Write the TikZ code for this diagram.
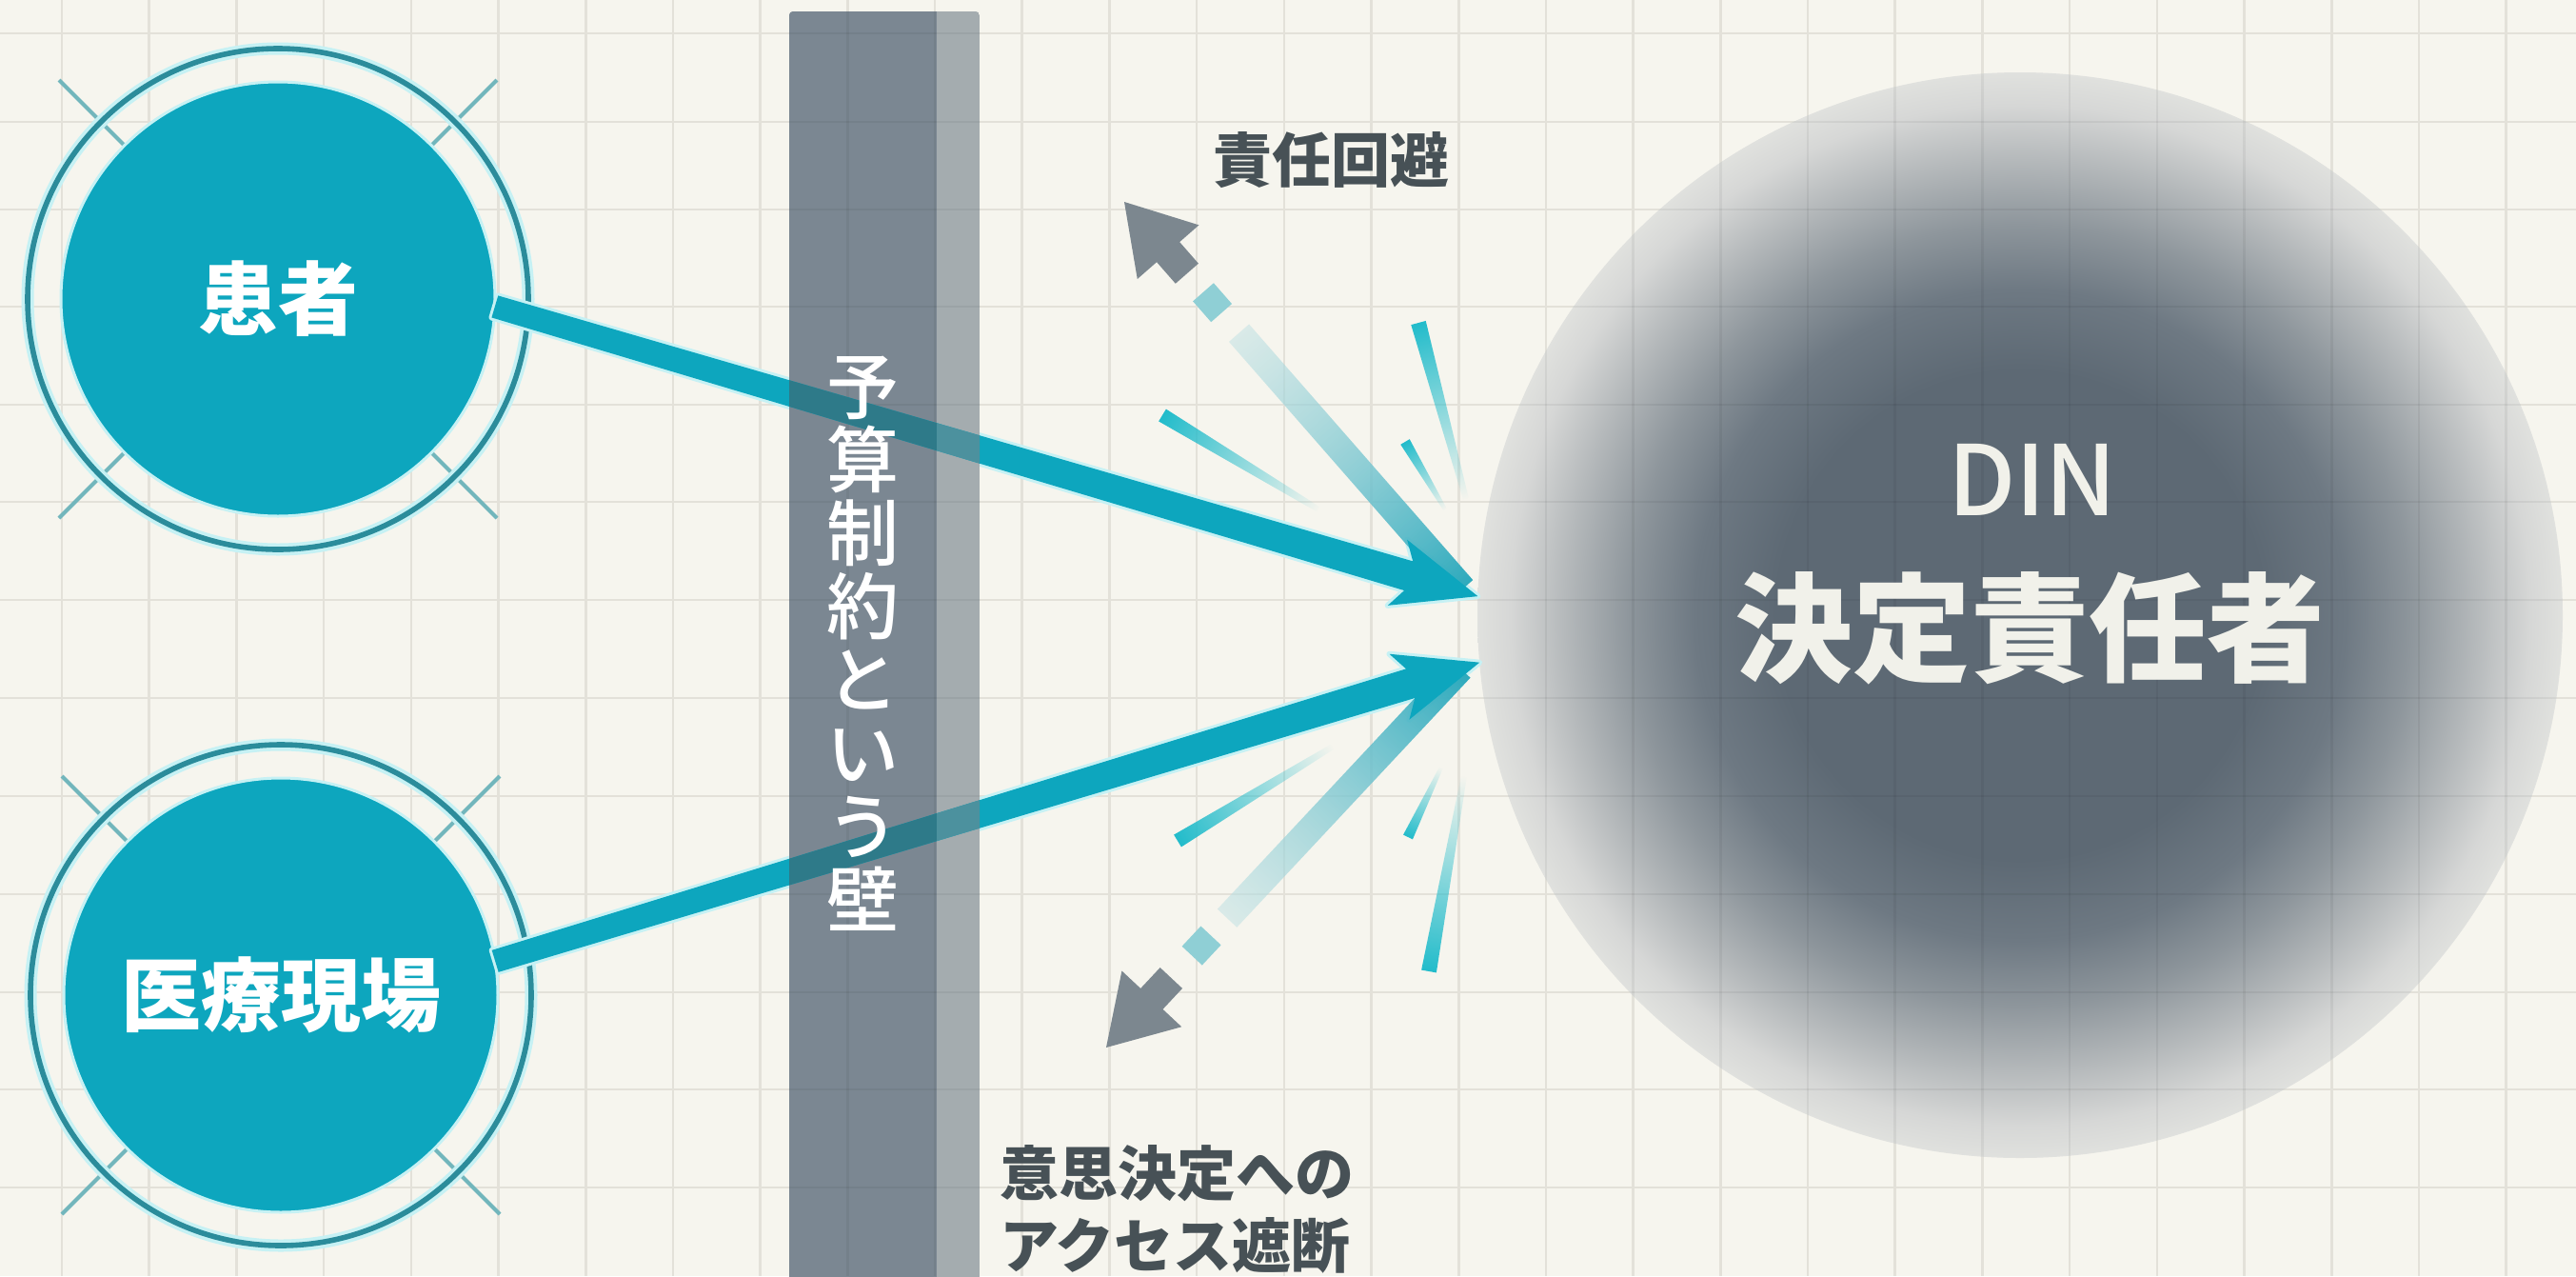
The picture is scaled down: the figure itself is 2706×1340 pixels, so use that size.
\documentclass[tikz,border=0pt]{standalone}
\usepackage{fontspec}
\newfontfamily\jp{Noto Sans CJK JP}
\newfontfamily\jpm{Noto Sans CJK JP Medium}
\usetikzlibrary{calc,fadings}
\definecolor{bgc}{HTML}{F6F5EE}
\definecolor{gridc}{HTML}{E3E1D9}
\definecolor{tealc}{HTML}{0DA6BE}
\definecolor{glowc}{HTML}{C6F1F4}
\definecolor{ringc}{HTML}{2B8C9B}
\definecolor{xc}{HTML}{72B6BC}
\definecolor{walldark}{HTML}{7B8792}
\definecolor{walllight}{HTML}{A4ACAF}
\definecolor{wtd}{HTML}{2E7A89}
\definecolor{wtl}{HTML}{4C919E}
\definecolor{grayhead}{HTML}{7C878F}
\definecolor{sqc}{HTML}{8FCFD5}
\definecolor{barteal}{HTML}{2EAABD}
\definecolor{barlight}{HTML}{C3E2E4}
\definecolor{sparkc}{HTML}{22BCCB}
\definecolor{labelc}{HTML}{475156}
\definecolor{dintext}{HTML}{F1F1EA}
\definecolor{dinA}{HTML}{5D6974}
\definecolor{dinB}{HTML}{6E7983}
\definecolor{dinC}{HTML}{8E969C}
\definecolor{dinD}{HTML}{B5B9BB}
\definecolor{dinE}{HTML}{D6D7D6}
\definecolor{dinF}{HTML}{E0E1DE}
\pgfdeclareradialshading{dinshade}{\pgfpoint{0bp}{0bp}}{color(0bp)=(dinA); color(11.25bp)=(dinA); color(15bp)=(dinB); color(18bp)=(dinC); color(21bp)=(dinD); color(23.5bp)=(dinE); color(25bp)=(dinF); color(50bp)=(dinF)}
\tikzfading[name=fadeout, left color=transparent!0, right color=transparent!100]
\tikzfading[name=fadein, left color=transparent!45, right color=transparent!0]
\tikzset{
  hub/.style={circle, fill=tealc, draw=glowc, line width=1.5pt, minimum size=228pt, text=white, font=\jp\bfseries\fontsize{42pt}{46pt}\selectfont},
  ringline/.style={draw=ringc, line width=2.8pt},
  ringglow/.style={draw=glowc, line width=6.5pt},
  xline/.style={draw=xc, line width=2pt},
  arrowglow/.style={draw=glowc, line width=3pt, line join=round},
  lbltext/.style={text=labelc, font=\jp\bfseries\fontsize{31pt}{38pt}\selectfont},
  shadowgrid/.style={draw=black, draw opacity=0.05, line width=1.3pt},
}
\newcommand\gridlines{%
  \foreach \k in {0,...,28}{\draw ({65+91.7*\k},0) -- ({65+91.7*\k},1340);}%
  \foreach \yy in {35,128,220,322,425,527,630,733,836,939,1042,1144,1247}{\draw (0,\yy) -- (2706,\yy);}%
}
\newcommand\tealpath[2]{($(#1)!6pt!90:(#2)$) -- ($(#2)!37.9pt!(#1)!8pt!-90:(#1)$) -- ($(#2)!44pt!(#1)!18pt!-90:(#1)$) -- (#2) -- ($(#2)!44pt!(#1)!18pt!90:(#1)$) -- ($(#2)!37.9pt!(#1)!8pt!90:(#1)$) -- ($(#1)!6pt!-90:(#2)$) -- cycle}
\newcommand\spark[6]{%
  \begin{scope}[transform canvas={shift={(#1,#2)}, rotate=#3}]
    \fill[sparkc, path fading=fadeout] (0,{-#5/2}) -- (#4,{-#6/2}) -- (#4,{#6/2}) -- (0,{#5/2}) -- cycle;
  \end{scope}}
\begin{document}
\begin{tikzpicture}[x=0.5pt, y=-0.5pt, every node/.style={inner sep=0pt, outer sep=0pt}]
\useasboundingbox (0,0) rectangle (2706,1340);
\clip (0,0) rectangle (2706,1340);
\fill[bgc] (0,0) rectangle (2706,1340);
\begin{scope}[draw=gridc, line width=1.3pt]\gridlines\end{scope}

% DIN disk
\node[circle, shade, shading=dinshade, minimum size=570pt] (d) at (2122,646) {};

% hubs
\coordinate (pc) at (292,314);
\coordinate (mc) at (295,1045);
\foreach \c in {pc,mc}{
  \draw[xline] ($(\c)+(-230,-230)$) -- ($(\c)+(230,230)$);
  \draw[xline] ($(\c)+(-230,230)$) -- ($(\c)+(230,-230)$);
  \draw[ringglow] (\c) circle[radius=263];
  \draw[ringline] (\c) circle[radius=263];
}
\node[hub] (p) at (pc) {患者};
\node[hub] (m) at (mc) {医療現場};

\coordinate (t1) at (d.178);
\coordinate (t2) at (d.185);
\draw[arrowglow] \tealpath{p.-2}{t1};
\draw[arrowglow] \tealpath{m.9}{t2};

% wall
\begin{scope}
  \clip[rounded corners=2pt] (829,12) rectangle (1029,1360);
  \fill[walllight] (829,0) rectangle (1029,1360);
  \fill[walldark] (829,0) rectangle (984,1360);
\end{scope}

% faint grid over dark shapes
\begin{scope}
  \clip (d.center) circle[radius=570];
  \begin{scope}[shadowgrid]\gridlines\end{scope}
\end{scope}
\begin{scope}
  \clip (829,12) rectangle (1029,1340);
  \begin{scope}[shadowgrid]\gridlines\end{scope}
\end{scope}

% grey deflected arrows
\begin{scope}[transform canvas={shift={(1181,212)}, rotate=-48.8}]
  \shade[left color=barlight, right color=barteal, path fading=fadein] (183,-14) rectangle (540,14);
  \fill[sqc] (126,-14.5) rectangle (155,14.5);
  \fill[grayhead] (0,0) -- (70,43) -- (70,16) -- (100,16) -- (100,-16) -- (70,-16) -- (70,-43) -- cycle;
\end{scope}
\begin{scope}[transform canvas={shift={(1162,1100)}, rotate=46.9}]
  \shade[left color=barlight, right color=barteal, path fading=fadein] (186,-14) rectangle (545,14);
  \fill[sqc] (132,-14.5) rectangle (161,14.5);
  \fill[grayhead] (0,0) -- (70,43) -- (70,16) -- (100,16) -- (100,-16) -- (70,-16) -- (70,-43) -- cycle;
\end{scope}

% sparks
\spark{1221}{436}{-31.1}{191.6}{15}{6}
\spark{1490}{339}{-74.9}{191.6}{16}{6}
\spark{1476}{464}{-59.4}{82.5}{11}{4}
\spark{1237}{883}{31.3}{190.7}{15}{6}
\spark{1501}{1020}{79.8}{208.3}{16}{6}
\spark{1479}{879}{64.4}{81}{11}{4}

% teal arrows
\fill[tealc] \tealpath{p.-2}{t1};
\fill[tealc] \tealpath{m.9}{t2};
\begin{scope}
  \clip (829,0) rectangle (984,1340);
  \fill[wtd] \tealpath{p.-2}{t1};
  \fill[wtd] \tealpath{m.9}{t2};
\end{scope}
\begin{scope}
  \clip (984,0) rectangle (1029,1340);
  \fill[wtl] \tealpath{p.-2}{t1};
  \fill[wtl] \tealpath{m.9}{t2};
\end{scope}

% texts
\node[text=white, font=\jpm\fontsize{38pt}{38.5pt}\selectfont, align=center] (walltext) at (906,676) {予\\算\\制\\約\\と\\い\\う\\壁};
\node[text=dintext, font=\jpm\fontsize{51pt}{56pt}\selectfont] (dinl) at (2135,504) {DIN};
\node[text=dintext, font=\jp\bfseries\fontsize{62pt}{70pt}\selectfont] (dinn) at (2132,660) {決定責任者};
\node[lbltext] (avoid) at (1398,168) {責任回避};
\node[lbltext, align=left, anchor=west] (block) at (1050,1270) {意思決定への\\アクセス遮断};
\end{tikzpicture}
\end{document}
